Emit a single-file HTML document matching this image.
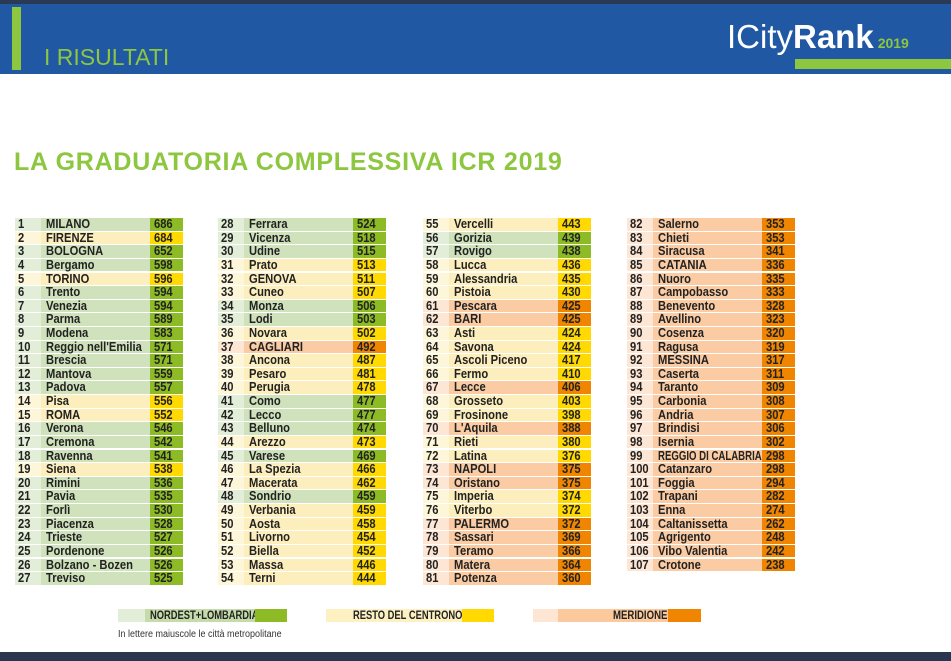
<!DOCTYPE html>
<html><head><meta charset="utf-8"><style>
*{margin:0;padding:0;box-sizing:border-box}
body{width:951px;height:661px;background:#fff;position:relative;overflow:hidden;font-family:"Liberation Sans",sans-serif}
.top{position:absolute;left:0;top:0;width:951px;height:4px;background:#2a3a55}
.hdr{position:absolute;left:0;top:4px;width:951px;height:70px;background:#2158a4}
.gbar{position:absolute;left:12px;top:3px;width:9px;height:63px;background:#8dc63f}
.ris{position:absolute;left:44px;top:40px;font-size:23px;color:#8dc63f}
.logo{position:absolute;left:727px;top:14px;color:#fff;font-size:33px;white-space:nowrap}
.logo b{font-weight:bold}
.logo span{font-size:14px;color:#8dc63f;font-weight:bold;margin-left:4px}
.lbar{position:absolute;left:795px;top:55px;width:156px;height:10px;background:#8dc63f}
.title{position:absolute;left:14px;top:148px;font-weight:bold;font-size:25px;color:#8dc63f;letter-spacing:0.75px;white-space:nowrap}
.r{position:absolute;height:12.6px;font-size:13px;font-weight:bold;line-height:12.6px;color:#222;white-space:nowrap}
.r div{position:absolute;top:0;height:100%;overflow:visible}
.c{display:inline-block;transform:scaleX(.86);transform-origin:left center}
.bot{position:absolute;left:0;top:652px;width:951px;height:9px;background:#2a3550}
.leg{position:absolute;top:609px;height:13px;font-size:12px;font-weight:bold;line-height:13px;color:#222;white-space:nowrap}
.note{position:absolute;left:118px;top:629px;font-size:10px;color:#333;white-space:nowrap}
</style></head><body>
<div class="top"></div>
<div class="hdr"><div class="gbar"></div><div class="ris">I RISULTATI</div>
<div class="logo">ICity<b>Rank</b><span>2019</span></div><div class="lbar"></div></div>
<div class="title">LA GRADUATORIA COMPLESSIVA ICR 2019</div>
<div id="t"></div>
<div class="leg" style="left:118px;width:27px;background:#e3eed8"></div>
<div class="leg" style="left:145px;width:110px;background:#c5dcaa;padding-left:5px"><span class="c" style="transform:scaleX(.78)">NORDEST+LOMBARDIA</span></div>
<div class="leg" style="left:255px;width:32px;background:#8dbb25"></div>
<div class="leg" style="left:326px;width:136px;background:#fdf1c2;padding-left:27px"><span class="c" style="transform:scaleX(.78)">RESTO DEL CENTRONORD</span></div>
<div class="leg" style="left:462px;width:32px;background:#ffd900"></div>
<div class="leg" style="left:533px;width:25px;background:#fde6d3"></div>
<div class="leg" style="left:558px;width:110px;background:#fbc99c;padding-left:55px"><span class="c" style="transform:scaleX(.8)">MERIDIONE</span></div>
<div class="leg" style="left:668px;width:33px;background:#ef8500"></div>
<div class="note"><span class="c" style="transform:scaleX(.9)">In lettere maiuscole le città metropolitane</span></div>
<div class="bot"></div>
<script>
var d=[
"G MILANO 686","Y FIRENZE 684","G BOLOGNA 652","G Bergamo 598","Y TORINO 596","G Trento 594","G Venezia 594","G Parma 589","G Modena 583","G Reggio nell'Emilia 571","G Brescia 571","G Mantova 559","G Padova 557","Y Pisa 556","Y ROMA 552","G Verona 546","G Cremona 542","G Ravenna 541","Y Siena 538","G Rimini 536","G Pavia 535","G Forlì 530","G Piacenza 528","G Trieste 527","G Pordenone 526","G Bolzano - Bozen 526","G Treviso 525",
"G Ferrara 524","G Vicenza 518","G Udine 515","Y Prato 513","Y GENOVA 511","Y Cuneo 507","G Monza 506","G Lodi 503","Y Novara 502","O CAGLIARI 492","Y Ancona 487","Y Pesaro 481","Y Perugia 478","G Como 477","G Lecco 477","G Belluno 474","Y Arezzo 473","G Varese 469","Y La Spezia 466","Y Macerata 462","G Sondrio 459","Y Verbania 459","Y Aosta 458","Y Livorno 454","Y Biella 452","Y Massa 446","Y Terni 444",
"Y Vercelli 443","G Gorizia 439","G Rovigo 438","Y Lucca 436","Y Alessandria 435","Y Pistoia 430","O Pescara 425","O BARI 425","Y Asti 424","Y Savona 424","Y Ascoli Piceno 417","Y Fermo 410","O Lecce 406","Y Grosseto 403","Y Frosinone 398","O L'Aquila 388","Y Rieti 380","Y Latina 376","O NAPOLI 375","O Oristano 375","Y Imperia 374","Y Viterbo 372","O PALERMO 372","O Sassari 369","O Teramo 366","O Matera 364","O Potenza 360",
"O Salerno 353","O Chieti 353","O Siracusa 341","O CATANIA 336","O Nuoro 335","O Campobasso 333","O Benevento 328","O Avellino 323","O Cosenza 320","O Ragusa 319","O MESSINA 317","O Caserta 311","O Taranto 309","O Carbonia 308","O Andria 307","O Brindisi 306","O Isernia 302","O REGGIO DI CALABRIA 298","O Catanzaro 298","O Foggia 294","O Trapani 282","O Enna 274","O Caltanissetta 262","O Agrigento 248","O Vibo Valentia 242","O Crotone 238"];
var C={G:["#e3eed8","#cfe2bb","#8dbb25"],Y:["#fef6d8","#fdefbd","#ffd900"],O:["#fde6d3","#fbcca3","#ef8500"]};
var X=[15,218,423,627],h="";
d.forEach(function(s,i){var c=Math.floor(i/27),k=i%27,p=s.split(" "),t=p[0],v=p[p.length-1],n=p.slice(1,-1).join(" ");
var x=X[c],y=218+k*13.62,cc=C[t];
var sc=n.length>17&&n==n.toUpperCase()?' style="transform:scaleX(.74)"':'';
h+='<div class="r" style="left:'+x+'px;top:'+y.toFixed(1)+'px;width:168px">'+
'<div style="left:0;width:26px;background:'+cc[0]+';padding-left:3px"><span class="c">'+(i+1)+'</span></div>'+
'<div style="left:26px;width:109px;background:'+cc[1]+';padding-left:5px"><span class="c"'+sc+'>'+n+'</span></div>'+
'<div style="left:135px;width:33px;background:'+cc[2]+';padding-left:4px"><span class="c">'+v+'</span></div></div>';});
document.getElementById("t").innerHTML=h;
</script>
</body></html>
